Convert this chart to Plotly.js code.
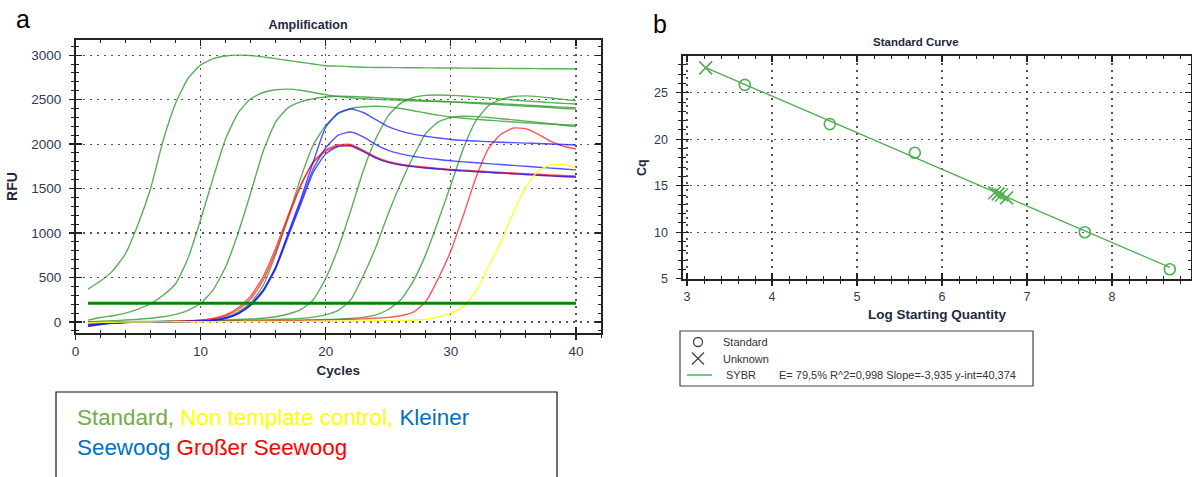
<!DOCTYPE html>
<html>
<head>
<meta charset="utf-8">
<script src="https://cdn.plot.ly/plotly-3.0.1.min.js"></script>
<style>
  html, body { margin: 0; padding: 0; background: #ffffff; }
  #chart { width: 1192px; height: 477px; }
</style>
</head>
<body>
<div id="chart"></div>
<script>
// ---------- Amplification data (RFU per cycle) ----------
const cycles = [1,2,3,4,5,6,7,8,9,10,11,12,13,14,15,16,17,18,19,20,
                21,22,23,24,25,26,27,28,29,30,31,32,33,34,35,36,37,38,39,40];

// Standard dilution series
const std1 = [370,460,580,770,1100,1500,2040,2460,2740,2890,2960,2990,3000,2995,2980,2960,2940,2920,2900,2880,
              2876,2870,2864,2861,2860,2859,2858,2857,2856,2855,2854,2853,2852,2851,2850,2849,2848,2847,2846,2844];
const std2 = [20,50,70,100,145,205,300,430,720,1150,1620,2060,2350,2510,2580,2610,2618,2605,2580,2555,
              2535,2520,2510,2503,2497,2492,2487,2482,2478,2474,2470,2465,2460,2453,2446,2438,2430,2422,2415,2408];
const std3 = [0,8,15,22,30,42,58,85,130,210,360,620,1000,1450,1920,2250,2410,2475,2510,2530,
              2538,2536,2530,2522,2514,2506,2498,2490,2482,2474,2466,2458,2450,2442,2434,2426,2418,2410,2400,2393];
const std4 = [-30,-15,-8,-5,-3,0,0,3,6,12,25,55,115,215,410,760,1180,1620,1990,2210,
              2340,2400,2420,2425,2418,2400,2375,2350,2325,2305,2290,2278,2268,2258,2248,2240,2232,2224,2218,2212];
const std5 = [0,0,2,4,5,6,8,10,12,15,18,22,27,33,42,58,90,140,250,490,
              830,1250,1700,2060,2320,2460,2525,2548,2552,2548,2540,2530,2520,2508,2496,2485,2475,2466,2458,2450];
const std6 = [0,0,0,2,3,4,5,6,8,10,12,14,16,20,24,28,33,40,55,80,
              130,250,520,840,1220,1560,1860,2120,2250,2300,2312,2308,2298,2285,2272,2258,2244,2228,2212,2196];
const std7 = [0,0,0,0,2,3,4,5,6,7,8,9,10,12,14,16,18,20,23,27,
              32,40,52,80,140,250,460,760,1140,1540,1950,2260,2430,2500,2535,2542,2533,2518,2502,2486];

// Kleiner Seewoog samples
const klein1 = [-45,-25,-12,-6,-3,-1,0,2,5,10,20,45,100,200,360,620,1000,1380,1800,2190,
                2350,2395,2355,2275,2195,2145,2112,2088,2068,2052,2042,2034,2027,2021,2016,2011,2006,2000,1995,1990];
const klein2 = [-40,-22,-10,-5,-2,0,0,2,5,10,20,42,95,190,350,610,980,1350,1720,1960,
                2100,2135,2080,1995,1930,1890,1862,1842,1826,1812,1800,1790,1780,1770,1760,1750,1740,1730,1720,1710];
const klein3 = [-50,-28,-14,-7,-3,-1,0,1,4,9,18,40,92,185,345,600,960,1320,1680,1890,
                1975,1982,1920,1845,1795,1765,1746,1731,1719,1708,1699,1690,1682,1674,1666,1658,1650,1642,1636,1630];

// Großer Seewoog samples
const gross1 = [-40,-20,-8,-3,0,2,4,7,12,20,35,70,140,260,470,790,1170,1530,1800,1935,
                1992,1995,1930,1855,1805,1775,1755,1740,1727,1716,1707,1698,1690,1682,1674,1667,1660,1653,1647,1641];
const gross2 = [-30,-15,-6,-2,0,2,4,7,12,22,40,80,160,290,510,830,1200,1540,1790,1920,
                1975,1978,1915,1842,1795,1766,1746,1731,1719,1708,1699,1690,1682,1674,1666,1658,1650,1642,1636,1628];
const gross3 = [-20,-10,-5,0,0,2,3,4,5,6,7,8,9,10,12,14,16,18,20,23,
                26,30,35,42,52,70,110,230,490,800,1200,1620,1950,2110,2180,2172,2110,2030,1975,1944];

// Non template control
const ntc = [-10,-5,-3,0,0,0,1,2,2,3,3,4,4,5,5,6,6,7,8,9,
             10,11,12,13,15,17,20,30,55,100,175,340,620,900,1230,1520,1700,1768,1772,1730];

const thresholdRFU = 210;

const standardCurves = [std1, std2, std3, std4, std5, std6, std7];
const kleinerCurves  = [klein1, klein2, klein3];
const grosserCurves  = [gross1, gross2, gross3];

// ---------- Standard curve data ----------
const stdLogQty = [3.68, 4.68, 5.68, 7.68, 8.68];
const stdCq     = [25.85, 21.63, 18.55, 10.0, 6.02];
const unkLogQty = [3.22, 6.62, 6.66, 6.70, 6.76];
const unkCq     = [27.68, 14.25, 14.12, 14.0, 13.7];
const fitSlope = -3.935;
const fitIntercept = 40.374;
const fitEfficiency = 79.5;
const fitR2 = 0.998;
const fitLogRange = [3.22, 8.68];

// ---------- page geometry helpers (pixel -> paper) ----------
const W = 1192, H = 477;
const fx = px => px / W;
const fy = py => 1 - py / H;

const FONT = 'Liberation Sans, Arial, sans-serif';
const tickFontA = { family: FONT, size: 13.5, color: '#2f3b55' };
const tickFontB = { family: FONT, size: 12.5, color: '#2f3b55' };
const AXIS = '#222222';
const GRID = '#555555';
const TITLE_COLOR = '#1e2a40';

const green  = 'rgba(50,155,50,0.8)';
const blue   = 'rgba(25,25,255,0.75)';
const red    = 'rgba(255,30,30,0.75)';
const yellow = 'rgba(255,255,30,0.95)';
const fitGreen = 'rgb(80,175,80)';

const traces = [];
function curve(values, color) {
  return {
    type: 'scatter', mode: 'lines', x: cycles, y: values,
    line: { color: color, width: 1.4, shape: 'spline', smoothing: 0.5 },
    showlegend: false, hoverinfo: 'skip', xaxis: 'x', yaxis: 'y'
  };
}
standardCurves.forEach(c => traces.push(curve(c, green)));
grosserCurves.forEach(c => traces.push(curve(c, red)));
kleinerCurves.forEach(c => traces.push(curve(c, blue)));
traces.push(curve(ntc, yellow));

// threshold line
traces.push({
  type: 'scatter', mode: 'lines',
  x: [cycles[0], cycles[cycles.length - 1]], y: [thresholdRFU, thresholdRFU],
  line: { color: 'rgb(10,130,10)', width: 3 },
  showlegend: false, hoverinfo: 'skip', xaxis: 'x', yaxis: 'y'
});

// overlay axes carry the inner half of the crossing ticks
traces.push({ type: 'scatter', mode: 'markers', x: [null], y: [null], xaxis: 'x3', yaxis: 'y3', showlegend: false, hoverinfo: 'skip' });
traces.push({ type: 'scatter', mode: 'markers', x: [null], y: [null], xaxis: 'x4', yaxis: 'y4', showlegend: false, hoverinfo: 'skip' });

// standard curve: regression line, standards, unknowns
const fitCq = fitLogRange.map(v => fitIntercept + fitSlope * v);
traces.push({
  type: 'scatter', mode: 'lines', x: fitLogRange, y: fitCq,
  line: { color: fitGreen, width: 1.3 },
  showlegend: false, hoverinfo: 'skip', xaxis: 'x2', yaxis: 'y2'
});
traces.push({
  type: 'scatter', mode: 'markers', x: stdLogQty, y: stdCq,
  marker: { symbol: 'circle-open', size: 11, color: fitGreen, line: { width: 1.6, color: fitGreen } },
  showlegend: false, hoverinfo: 'skip', xaxis: 'x2', yaxis: 'y2'
});
traces.push({
  type: 'scatter', mode: 'markers', x: unkLogQty, y: unkCq,
  marker: { symbol: 'x-thin-open', size: 13, color: fitGreen, line: { width: 1.6, color: fitGreen } },
  showlegend: false, hoverinfo: 'skip', xaxis: 'x2', yaxis: 'y2'
});

const dec = (v, n) => v.toFixed(n).replace('.', ',');
const fitText = 'E=\u00a0' + dec(fitEfficiency, 1) + '%\u00a0R^2=' + dec(fitR2, 3) +
                '\u00a0Slope=' + dec(fitSlope, 3) + '\u00a0y-int=' + dec(fitIntercept, 3);

function mainAxis(o) {
  return Object.assign({
    tickmode: 'linear', ticks: 'outside', ticklen: 5, tickwidth: 1.2, tickcolor: AXIS,
    showline: true, linecolor: AXIS, linewidth: 1.6, mirror: true,
    showgrid: true, gridcolor: GRID, griddash: '2px,5px', gridwidth: 1.1,
    zeroline: false, fixedrange: true
  }, o);
}
function innerAxis(o) {
  return Object.assign({
    tickmode: 'linear', ticks: 'inside', ticklen: 6, tickwidth: 1.2, tickcolor: AXIS,
    showline: false, mirror: 'allticks', showticklabels: false,
    showgrid: false, zeroline: false, fixedrange: true
  }, o);
}

const xA = { domain: [fx(75.5), fx(601)], range: [0, 42], tick0: 0, dtick: 10 };
const yA = { domain: [fy(333), fy(40)], range: [-124, 3170], tick0: 0, dtick: 500 };
const xB = { domain: [fx(683), fx(1191)], range: [2.953, 8.929], tick0: 3, dtick: 1 };
const yB = { domain: [fy(279.3), fy(56)], range: [4.94, 28.95], tick0: 5, dtick: 5 };

const legendInk = '#444';
const paperLine = (x0, y0, x1, y1, color, width) => ({
  type: 'line', xref: 'paper', yref: 'paper', x0: fx(x0), y0: fy(y0), x1: fx(x1), y1: fy(y1),
  line: { color: color, width: width }
});
const note = (text, x, y, size, extra) => Object.assign({
  text: text, xref: 'paper', yref: 'paper', x: fx(x), y: fy(y), xanchor: 'left', yanchor: 'middle',
  showarrow: false, font: { family: FONT, size: size, color: '#333' }
}, extra || {});

const layout = {
  width: W, height: H,
  margin: { l: 0, r: 0, t: 0, b: 0, pad: 0 },
  paper_bgcolor: '#ffffff', plot_bgcolor: '#ffffff',
  font: { family: FONT, color: '#333' },
  showlegend: false,
  title: {
    text: 'Amplification', x: fx(308), y: fy(25), xanchor: 'center', yanchor: 'middle',
    font: { family: FONT, size: 12.5, weight: 'bold', color: TITLE_COLOR }
  },
  xaxis: mainAxis(Object.assign({}, xA, {
    anchor: 'y', tickfont: tickFontA, ticklabelstandoff: 0,
    minor: { dtick: 2, ticks: 'outside', ticklen: 3, tickwidth: 1, tickcolor: AXIS, showgrid: false },
    title: { text: 'Cycles', standoff: 8, font: { family: FONT, size: 13.5, weight: 'bold', color: TITLE_COLOR } }
  })),
  yaxis: mainAxis(Object.assign({}, yA, {
    anchor: 'x', tickfont: tickFontA, ticklabelstandoff: 5,
    minor: { dtick: 100, ticks: 'outside', ticklen: 3, tickwidth: 1, tickcolor: AXIS, showgrid: false },
    title: { text: 'RFU', standoff: 10, font: { family: FONT, size: 14, weight: 'bold', color: TITLE_COLOR } }
  })),
  xaxis3: innerAxis(Object.assign({}, xA, {
    overlaying: 'x', anchor: 'y3',
    minor: { dtick: 2, ticks: 'inside', ticklen: 3, tickwidth: 1, tickcolor: AXIS, showgrid: false }
  })),
  yaxis3: innerAxis(Object.assign({}, yA, {
    overlaying: 'y', anchor: 'x3',
    minor: { dtick: 100, ticks: 'inside', ticklen: 3, tickwidth: 1, tickcolor: AXIS, showgrid: false }
  })),
  xaxis2: mainAxis(Object.assign({}, xB, {
    anchor: 'y2', tickfont: tickFontB, ticklabelstandoff: 0,
    minor: { dtick: 0.2, ticks: 'outside', ticklen: 3, tickwidth: 1, tickcolor: AXIS, showgrid: false },
    title: { text: 'Log Starting Quantity', standoff: 6, font: { family: FONT, size: 13.5, weight: 'bold', color: TITLE_COLOR } }
  })),
  yaxis2: mainAxis(Object.assign({}, yB, {
    anchor: 'x2', tickfont: tickFontB, ticklabelstandoff: 6,
    minor: { dtick: 1, ticks: 'outside', ticklen: 3, tickwidth: 1, tickcolor: AXIS, showgrid: false },
    title: { text: 'Cq', standoff: 4, font: { family: FONT, size: 12.5, weight: 'bold', color: TITLE_COLOR } }
  })),
  xaxis4: innerAxis(Object.assign({}, xB, {
    overlaying: 'x2', anchor: 'y4',
    minor: { dtick: 0.2, ticks: 'inside', ticklen: 3, tickwidth: 1, tickcolor: AXIS, showgrid: false }
  })),
  yaxis4: innerAxis(Object.assign({}, yB, {
    overlaying: 'y2', anchor: 'x4',
    minor: { dtick: 1, ticks: 'inside', ticklen: 3, tickwidth: 1, tickcolor: AXIS, showgrid: false }
  })),
  shapes: [
    // standard-curve key
    { type: 'rect', xref: 'paper', yref: 'paper', x0: fx(680), x1: fx(1033), y0: fy(386), y1: fy(331),
      line: { color: '#444', width: 1.2 }, fillcolor: 'rgba(0,0,0,0)' },
    { type: 'circle', xref: 'paper', yref: 'paper', x0: fx(693.5), x1: fx(702.5), y0: fy(346.5), y1: fy(337.5),
      line: { color: legendInk, width: 1.3 }, fillcolor: 'rgba(0,0,0,0)' },
    paperLine(692, 352.5, 704, 364.5, legendInk, 1.3),
    paperLine(692, 364.5, 704, 352.5, legendInk, 1.3),
    paperLine(687, 375, 712, 375, fitGreen, 1.5),
    // colour key box below the amplification plot
    { type: 'rect', xref: 'paper', yref: 'paper', x0: fx(56), x1: fx(557), y0: fy(490), y1: fy(392),
      line: { color: '#111', width: 1.2 }, fillcolor: 'rgba(0,0,0,0)' }
  ],
  annotations: [
    { text: 'Standard Curve', xref: 'paper', yref: 'paper', x: fx(916), y: fy(42), xanchor: 'center', yanchor: 'middle',
      showarrow: false, font: { family: FONT, size: 11.5, weight: 'bold', color: TITLE_COLOR } },
    { text: 'a', xref: 'paper', yref: 'paper', x: fx(23), y: fy(19), xanchor: 'center', yanchor: 'middle',
      showarrow: false, font: { family: FONT, size: 25, color: '#000' } },
    { text: 'b', xref: 'paper', yref: 'paper', x: fx(660), y: fy(24), xanchor: 'center', yanchor: 'middle',
      showarrow: false, font: { family: FONT, size: 25, color: '#000' } },
    note('Standard', 721, 342, 11),
    note('Unknown', 721, 358.5, 11),
    note('SYBR', 724, 375, 11),
    note(fitText, 777, 375, 11),
    { text: '<span style="color:#70AD47">Standard,</span> <span style="color:#FFFF00">Non template control,</span> <span style="color:#0070C0">Kleiner</span>',
      xref: 'paper', yref: 'paper', x: fx(75), y: fy(417), xanchor: 'left', yanchor: 'middle',
      showarrow: false, font: { family: FONT, size: 22.4 } },
    { text: '<span style="color:#0070C0">Seewoog</span> <span style="color:#FF0000">Großer Seewoog</span>',
      xref: 'paper', yref: 'paper', x: fx(75), y: fy(447), xanchor: 'left', yanchor: 'middle',
      showarrow: false, font: { family: FONT, size: 22.4 } }
  ]
};

Plotly.newPlot('chart', traces, layout, { staticPlot: true, displayModeBar: false });
</script>
</body>
</html>
